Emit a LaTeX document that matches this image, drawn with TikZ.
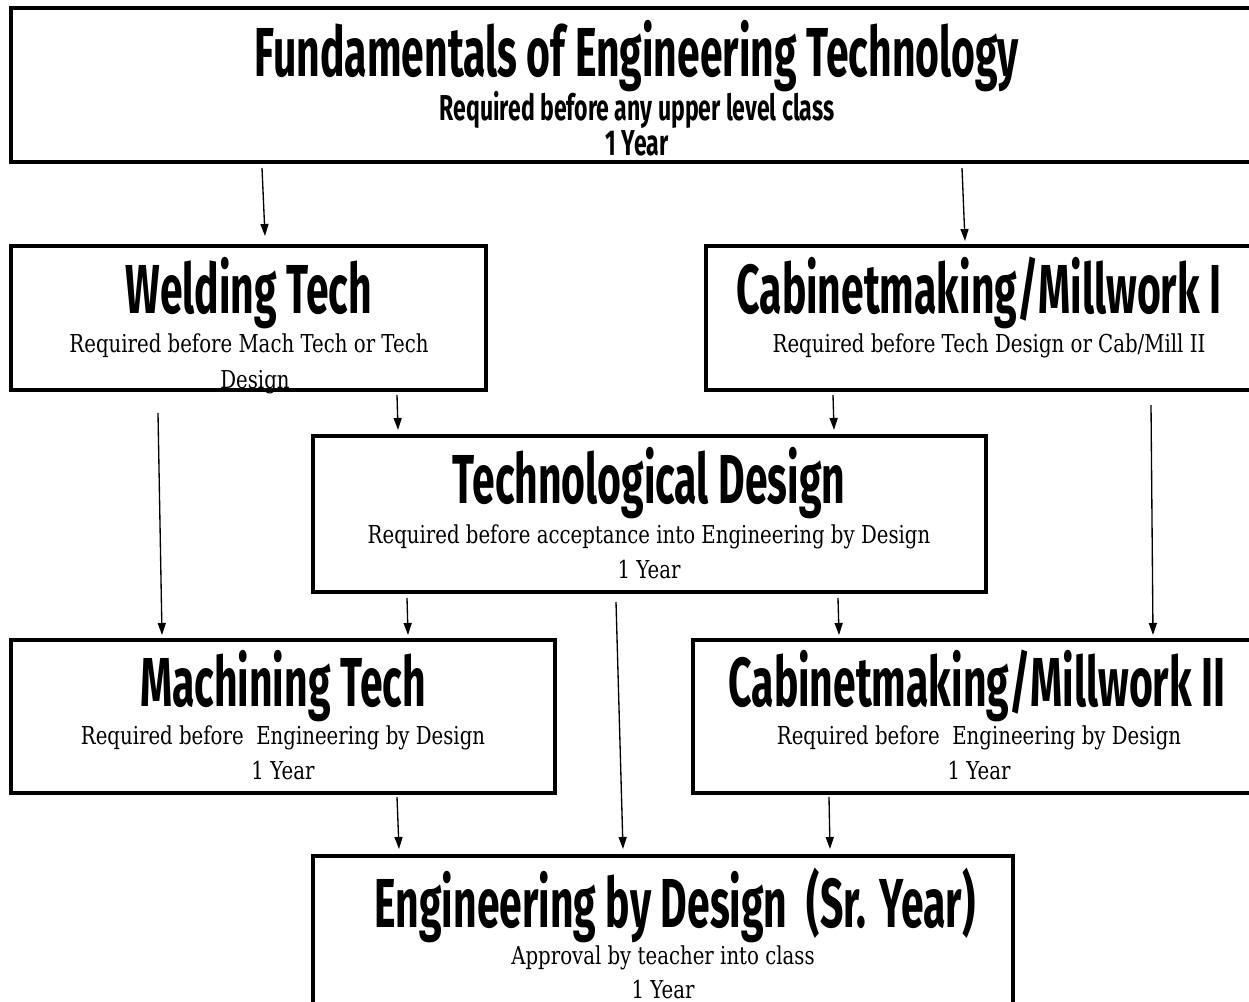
\documentclass[tikz,border=0pt]{standalone}
\usepackage{fontspec}
\usetikzlibrary{arrows.meta,calc}
\setmainfont{DejaVu Serif}[FakeStretch=0.8]
\newfontfamily\headfont{Fira Sans}[FakeStretch=0.59]
\newfontfamily\subheadfont{Fira Sans}[FakeStretch=0.64]

\begin{document}
\begin{tikzpicture}[x=0.75pt, y=-0.75pt,
    box/.style={draw, line width=3pt, outer sep=0pt, inner sep=0pt, anchor=north west},
    head/.style={anchor=base, inner sep=0pt, font=\headfont\bfseries\fontsize{52}{52}\selectfont},
    subhead/.style={anchor=base, inner sep=0pt, font=\subheadfont\bfseries\fontsize{27}{27}\selectfont},
    note/.style={anchor=base, inner sep=0pt, font=\fontsize{18.5}{18.5}\selectfont},
    arr/.style={-{Triangle[length=9pt,width=6pt]}, line width=1pt}]
        \useasboundingbox (0,0) rectangle (1249,1002);
        \clip (0,0) rectangle (1249,1002);

        \node[box, minimum width=975pt, minimum height=115.5pt] (fund) at (11, 8) {};
        \node[box, minimum width=356.25pt, minimum height=108pt] (weld) at (11, 246) {};
        \node[box, minimum width=450pt, minimum height=108pt] (cabA) at (706, 246) {};
        \node[box, minimum width=504.75pt, minimum height=117pt] (tdes) at (313, 436) {};
        \node[box, minimum width=408pt, minimum height=114.75pt] (mach) at (11, 640) {};
        \node[box, minimum width=450pt, minimum height=114.75pt] (cabB) at (693, 640) {};
        \node[box, minimum width=525pt, minimum height=165pt] (ebd) at (313, 856) {};

        \node[head] (fundT) at (637, 77) {Fundamentals of Engineering Technology};
        \node[subhead] (fundS) at (637, 121) {Required before any upper level class};
        \node[subhead] (fundY) at (637, 156) {1 Year};

        \node[head] (weldT) at (249, 313) {Welding Tech};
        \node[note] (weldS) at (249, 352) {Required before Mach Tech or Tech};
        \node[note] (weldS2) at (255, 388) {Design};

        \node[head] (cabAT) at (979, 313) {Cabinetmaking/Millwork I};
        \node[note] (cabAS) at (989, 352) {Required before Tech Design or Cab/Mill II};

        \node[head] (tdesT) at (649, 503) {Technological Design};
        \node[note] (tdesS) at (649, 543) {Required before acceptance into Engineering by Design};
        \node[note] (tdesY) at (649, 578) {1 Year};

        \node[head] (machT) at (283, 706) {Machining Tech};
        \node[note] (machS) at (283, 744) {Required before\ \ Engineering by Design};
        \node[note] (machY) at (283, 779) {1 Year};

        \node[head] (cabBT) at (977, 706) {Cabinetmaking/Millwork II};
        \node[note] (cabBS) at (979, 744) {Required before\ \ Engineering by Design};
        \node[note] (cabBY) at (979, 779) {1 Year};

        \node[head] (ebdT) at (675, 927) {Engineering by Design\ \ (Sr. Year)};
        \node[note] (ebdS) at (663, 964) {Approval by teacher into class};
        \node[note] (ebdY) at (663, 998) {1 Year};

        \draw[arr] ($(fund.south west)+(251,6)$) -- ($(weld.north west)+(254,-10)$);
        \draw[arr] ($(fund.south west)+(951,6)$) -- ($(cabA.north west)+(259,-5)$);
        \draw[arr] ($(weld.south west)+(386,5)$) -- ($(tdes.north west)+(85,-6)$);
        \draw[arr] ($(cabA.south west)+(127,5)$) -- ($(tdes.north west)+(521,-6)$);
        \draw[arr] ($(weld.south west)+(147,23)$) -- ($(mach.north west)+(151,-5)$);
        \draw[arr] ($(cabA.south west)+(445,15)$) -- ($(cabB.north west)+(460,-5)$);
        \draw[arr] ($(tdes.south west)+(94,6)$) -- ($(mach.north west)+(397,-5)$);
        \draw[arr] ($(tdes.south west)+(525,6)$) -- ($(cabB.north west)+(146,-5)$);
        \draw[arr] ($(tdes.south west)+(303,10)$) -- ($(ebd.north west)+(310,-7)$);
        \draw[arr] ($(mach.south west)+(386,4)$) -- ($(ebd.north west)+(86,-7)$);
        \draw[arr] ($(cabB.south west)+(136,4)$) -- ($(ebd.north west)+(517,-7)$);
\end{tikzpicture}
\end{document}
